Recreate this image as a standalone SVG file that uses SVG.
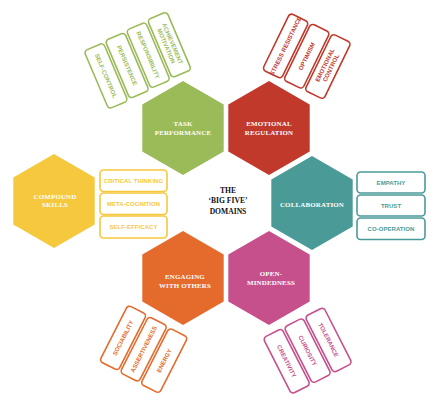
<svg xmlns="http://www.w3.org/2000/svg" width="436" height="402" viewBox="0 0 436 402">
<style>
.hx{font-family:"Liberation Serif",serif;font-weight:bold;font-size:6.9px;letter-spacing:0.2px;fill:#fff;text-anchor:middle}
.ct{font-family:"Liberation Serif",serif;font-weight:bold;font-size:7.6px;fill:#111;text-anchor:middle}
.bx{fill:#fff;stroke-width:1.6}
.lb{font-family:"Liberation Sans",sans-serif;font-weight:bold;font-size:6px;letter-spacing:0.05px;text-anchor:middle}
.g{stroke:#9bbb59}.gt{fill:#9bbb59}
.r{stroke:#c0392b}.rt{fill:#c0392b}
.t{stroke:#4a9b98}.tt{fill:#4a9b98}
.y{stroke:#f6c83d}.yt{fill:#f6c83d}
.o{stroke:#e56b2c}.ot{fill:#e56b2c}
.p{stroke:#c6508c}.pt{fill:#c6508c}
</style>
<defs>
<polygon id="hex" points="0,-47 40.7,-23.5 40.7,23.5 0,47 -40.7,23.5 -40.7,-23.5"/>
</defs>
<rect width="436" height="402" fill="#fff"/>

<g id="center">
<text class="ct" x="228" y="192.5">THE</text>
<text class="ct" x="228" y="203">‘BIG FIVE’</text>
<text class="ct" x="228" y="213.5">DOMAINS</text>
</g>

<g id="task-performance">
<use href="#hex" x="183" y="128" fill="#9bbb59"/>
<text class="hx" x="183" y="125.5">TASK</text>
<text class="hx" x="183" y="134.5">PERFORMANCE</text>
</g>
<g id="emotional-regulation">
<use href="#hex" x="269" y="128" fill="#c0392b"/>
<text class="hx" x="269" y="125.5">EMOTIONAL</text>
<text class="hx" x="269" y="134.5">REGULATION</text>
</g>
<g id="collaboration">
<use href="#hex" x="312" y="203" fill="#4a9b98"/>
<text class="hx" x="312" y="206.5">COLLABORATION</text>
</g>
<g id="compound-skills">
<use href="#hex" x="54" y="201" fill="#f6c83d"/>
<text class="hx" x="55" y="198.5">COMPOUND</text>
<text class="hx" x="55" y="207">SKILLS</text>
</g>
<g id="engaging-with-others">
<use href="#hex" x="183" y="278" fill="#e56b2c"/>
<text class="hx" x="185" y="278.5">ENGAGING</text>
<text class="hx" x="185" y="287.5">WITH OTHERS</text>
</g>
<g id="open-mindedness">
<use href="#hex" x="269" y="278" fill="#c6508c"/>
<text class="hx" x="271" y="275.5">OPEN-</text>
<text class="hx" x="271" y="284.5">MINDEDNESS</text>
</g>

<g id="task-skills" transform="translate(84,51) rotate(-23)">
<rect class="bx g" x="0" y="0" width="21" height="63" rx="3.5"/>
<text class="lb gt" transform="translate(10.5,31.5) rotate(90)" y="2.1">SELF-CONTROL</text>
<rect class="bx g" x="23.5" y="-1.3" width="21" height="63" rx="3.5"/>
<text class="lb gt" transform="translate(34,30.2) rotate(90)" y="2.1">PERSISTENCE</text>
<rect class="bx g" x="47" y="-2.6" width="21" height="63" rx="3.5"/>
<text class="lb gt" transform="translate(57.5,28.9) rotate(90)" y="2.1">RESPONSIBILITY</text>
<rect class="bx g" x="70.5" y="-3.9" width="21" height="63" rx="3.5"/>
<text class="lb gt" transform="translate(81,27.6) rotate(90)" y="-1.3">ACHIEVEMENT</text>
<text class="lb gt" transform="translate(81,27.6) rotate(90)" y="5.4">MOTIVATION</text>
</g>

<g id="emotional-skills" transform="translate(290,13) rotate(26)">
<rect class="bx r" x="0" y="0" width="21" height="63" rx="3.5"/>
<text class="lb rt" transform="translate(10.5,31.5) rotate(-90)" y="2.1">STRESS RESISTANCE</text>
<rect class="bx r" x="23.5" y="0" width="21" height="63" rx="3.5"/>
<text class="lb rt" transform="translate(34,31.5) rotate(-90)" y="2.1">OPTIMISM</text>
<rect class="bx r" x="47" y="0" width="21" height="63" rx="3.5"/>
<text class="lb rt" transform="translate(57.5,31.5) rotate(-90)" y="-1.3">EMOTIONAL</text>
<text class="lb rt" transform="translate(57.5,31.5) rotate(-90)" y="5.4">CONTROL</text>
</g>

<g id="collaboration-skills">
<rect class="bx t" x="357" y="172" width="68" height="21" rx="3.5"/>
<text class="lb tt" x="391" y="184.7">EMPATHY</text>
<rect class="bx t" x="357" y="195" width="68" height="21" rx="3.5"/>
<text class="lb tt" x="391" y="207.7">TRUST</text>
<rect class="bx t" x="357" y="218" width="68" height="21.5" rx="3.5"/>
<text class="lb tt" x="391" y="230.9">CO-OPERATION</text>
</g>

<g id="compound-list">
<rect class="bx y" x="100" y="170" width="67" height="21.5" rx="3.5"/>
<text class="lb yt" x="133.5" y="182.9">CRITICAL THINKING</text>
<rect class="bx y" x="100" y="193" width="67" height="21.5" rx="3.5"/>
<text class="lb yt" x="133.5" y="205.9">META-COGNITION</text>
<rect class="bx y" x="100" y="216" width="67" height="22" rx="3.5"/>
<text class="lb yt" x="133.5" y="229.1">SELF-EFFICACY</text>
</g>

<g id="engaging-skills" transform="translate(128,305) rotate(27)">
<rect class="bx o" x="0" y="0" width="21" height="63" rx="3.5"/>
<text class="lb ot" transform="translate(10.5,31.5) rotate(-90)" y="2.1">SOCIABILITY</text>
<rect class="bx o" x="23.5" y="0.8" width="21" height="63" rx="3.5"/>
<text class="lb ot" transform="translate(34,32.3) rotate(-90)" y="2.1">ASSERTIVENESS</text>
<rect class="bx o" x="47" y="1.6" width="21" height="63" rx="3.5"/>
<text class="lb ot" transform="translate(57.5,33.1) rotate(-90)" y="2.1">ENERGY</text>
</g>

<g id="open-skills" transform="translate(263,338) rotate(-27)">
<rect class="bx p" x="0" y="0" width="21" height="63" rx="3.5"/>
<text class="lb pt" transform="translate(10.5,31.5) rotate(90)" y="2.1">CREATIVITY</text>
<rect class="bx p" x="23.5" y="0" width="21" height="63" rx="3.5"/>
<text class="lb pt" transform="translate(34,31.5) rotate(90)" y="2.1">CURIOSITY</text>
<rect class="bx p" x="47" y="0" width="21" height="63" rx="3.5"/>
<text class="lb pt" transform="translate(57.5,31.5) rotate(90)" y="2.1">TOLERANCE</text>
</g>

<g id="connectors"/>
</svg>
